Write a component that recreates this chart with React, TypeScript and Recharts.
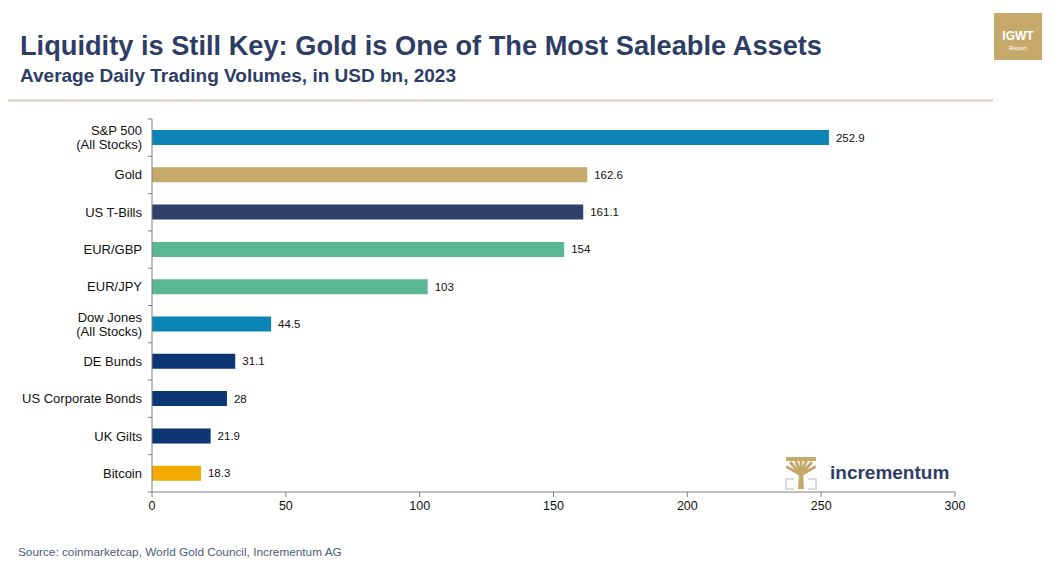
import { BarChart, Bar, XAxis, YAxis, Cell, LabelList } from 'recharts'

const categories = [
  'S&P 500\n(All Stocks)',
  'Gold',
  'US T-Bills',
  'EUR/GBP',
  'EUR/JPY',
  'Dow Jones\n(All Stocks)',
  'DE Bunds',
  'US Corporate Bonds',
  'UK Gilts',
  'Bitcoin',
]
const volumes = [252.9, 162.6, 161.1, 154, 103, 44.5, 31.1, 28, 21.9, 18.3]
const barColors = [
  '#0C84B6', '#C4A96B', '#2F4169', '#5BB792', '#5BB792',
  '#0C84B6', '#0B3573', '#0B3573', '#0B3573', '#F2AA00',
]
const xTicks = [0, 50, 100, 150, 200, 250, 300]

const data = categories.map((name, i) => ({ name, value: volumes[i], color: barColors[i] }))

const W = 1054
const H = 567
const PLOT_TOP = 119
const PLOT_BOTTOM = 492
const PLOT_LEFT = 152
const PLOT_RIGHT = 955
const band = (PLOT_BOTTOM - PLOT_TOP) / categories.length
const font = '"Liberation Sans", Arial, sans-serif'
const navy = '#2E3D66'

function CategoryTick(props: any) {
  const { x, y, payload, index } = props
  const lines = String(payload.value).split('\n')
  const start = -((lines.length - 1) * 14) / 2
  return (
    <g>
      <line x1={PLOT_LEFT - 4} x2={PLOT_LEFT} y1={y - band / 2} y2={y - band / 2} stroke="#808080" />
      {index === categories.length - 1 && (
        <line x1={PLOT_LEFT - 4} x2={PLOT_LEFT} y1={y + band / 2} y2={y + band / 2} stroke="#808080" />
      )}
      <text x={x} y={y} textAnchor="end" fontSize={13} fontFamily={font} fill="#111">
        {lines.map((l, i) => (
          <tspan key={i} x={x} dy={i === 0 ? start + 4.5 : 14}>{l}</tspan>
        ))}
      </text>
    </g>
  )
}

function Logo() {
  // small tree mark + word mark, bottom right of the plot
  const rays = [-60, -40, -20, 0, 20, 40, 60]
  return (
    <svg width={180} height={40} style={{ position: 'absolute', left: 782, top: 453 }}>
      <rect x={4} y={26} width={30} height={10} fill="none" stroke="#D0D0D0" strokeWidth={1.5} />
      <rect x={12} y={24} width={14} height={14} fill="#fff" />
      <path d="M16 36 L17 20 L21 20 L22 36 Z" fill="#C4A96B" />
      {rays.map((a) => {
        const r = (a * Math.PI) / 180
        return (
          <line key={a} x1={19} y1={22} x2={19 + Math.sin(r) * 17} y2={22 - Math.cos(r) * 17}
            stroke="#C4A96B" strokeWidth={3} />
        )
      })}
      <rect x={4} y={4} width={30} height={4} fill="#C4A96B" />
      <text x={48} y={26} fontSize={19} fontWeight="bold" fontFamily={font} fill={navy}>incrementum</text>
    </svg>
  )
}

export default function App() {
  return (
    <div style={{ position: 'absolute', left: 0, top: 0, width: W, height: H, background: '#fff', fontFamily: font }}>
      <svg width={W} height={110} style={{ position: 'absolute', left: 0, top: 0 }}>
        <text x={20} y={55} fontSize={28} fontWeight="bold" fill={navy} fontFamily={font}
          textLength={802} lengthAdjust="spacingAndGlyphs">
          Liquidity is Still Key: Gold is One of The Most Saleable Assets
        </text>
        <text x={20} y={82} fontSize={18} fontWeight="bold" fill={navy} fontFamily={font}
          textLength={436} lengthAdjust="spacingAndGlyphs">
          Average Daily Trading Volumes, in USD bn, 2023
        </text>
        <line x1={8} x2={993} y1={100.5} y2={100.5} stroke="#D5CFB5" strokeWidth={2} />
        <rect x={994} y={13} width={48} height={47} fill="#C4A96B" />
        <text x={1018} y={40} textAnchor="middle" fontSize={12} fontWeight="bold" fill="#fff" fontFamily={font}>IGWT</text>
        <text x={1018} y={50} textAnchor="middle" fontSize={6} fill="#fff" fontFamily={font}>Report</text>
      </svg>

      <div style={{ position: 'absolute', left: 0, top: 0 }}>
        <BarChart
          width={W}
          height={H}
          data={data}
          layout="vertical"
          barSize={15}
          margin={{ top: PLOT_TOP, right: W - PLOT_RIGHT, bottom: H - PLOT_BOTTOM - 30, left: 0 }}
        >
          <XAxis
            type="number"
            domain={[0, 300]}
            ticks={xTicks}
            height={30}
            tickSize={5}
            tickMargin={4}
            axisLine={{ stroke: '#808080' }}
            tickLine={{ stroke: '#808080' }}
            tick={{ fontSize: 12.5, fill: '#111', fontFamily: font }}
          />
          <YAxis
            type="category"
            dataKey="name"
            width={PLOT_LEFT}
            tickLine={false}
            tickSize={0}
            tickMargin={10}
            interval={0}
            axisLine={{ stroke: '#808080' }}
            tick={<CategoryTick />}
          />
          <Bar dataKey="value" isAnimationActive={false}>
            {data.map((d) => (
              <Cell key={d.name} fill={d.color} />
            ))}
            <LabelList dataKey="value" position="right" offset={7} fontSize={11.5} fill="#111" fontFamily={font} />
          </Bar>
        </BarChart>
      </div>

      <Logo />

      <div style={{ position: 'absolute', left: 18, top: 545, fontSize: 11.8, color: '#4F5B78', fontFamily: font }}>
        Source: coinmarketcap, World Gold Council, Incrementum AG
      </div>
    </div>
  )
}
